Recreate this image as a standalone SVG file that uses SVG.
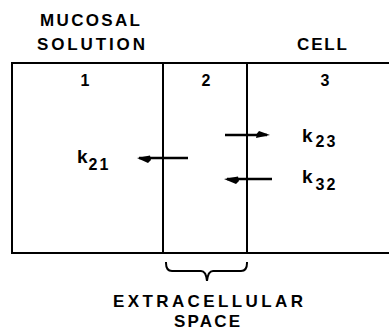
<svg xmlns="http://www.w3.org/2000/svg" width="389" height="331" viewBox="0 0 389 331">
<style>
.ln{stroke:#000;stroke-width:2;fill:none;stroke-linecap:square}
.ar{stroke:#000;stroke-width:2.4;fill:none}
.hd{fill:#000;stroke:none}
text{font-family:"Liberation Sans",Arial,sans-serif;font-weight:bold;fill:#000}
.lab{font-size:17px}
.num{font-size:16px}
.k{font-size:19px}
.sub{font-size:16px;letter-spacing:2px}
</style>
<g id="labels">
<text class="lab" x="40" y="26" textLength="100" lengthAdjust="spacing">MUCOSAL</text>
<text class="lab" x="37" y="50" textLength="108" lengthAdjust="spacing">SOLUTION</text>
<text class="lab" x="297" y="50" textLength="50" lengthAdjust="spacing">CELL</text>
</g>
<g id="compartment1">
<path class="ln" d="M12,63 V253"/>
<text class="num" x="85" y="86" text-anchor="middle">1</text>
</g>
<g id="compartment2">
<path class="ln" d="M163,63 V253"/>
<text class="num" x="206" y="86" text-anchor="middle">2</text>
</g>
<g id="compartment3">
<path class="ln" d="M247,63 V253"/>
<text class="num" x="325" y="86" text-anchor="middle">3</text>
</g>
<g id="frame">
<path class="ln" d="M12,63 H388"/>
<path class="ln" d="M12,253 H388"/>
</g>
<g id="connectors">
<path class="ar" d="M139,158 H188"/>
<path class="hd" d="M137,158 L150,155.5 L151,160 L148,163 Z"/>
<path class="ar" d="M225,135 H267"/>
<path class="hd" d="M270,135 L256,138 L257,133.5 L259,131 Z"/>
<path class="ar" d="M227,179 H272"/>
<path class="hd" d="M224,179 L238,176.5 L239,181 L236,184 Z"/>
</g>
<g id="rates">
<text x="77" y="163"><tspan class="k">k</tspan><tspan class="sub" dx="1" dy="7">21</tspan></text>
<text x="302" y="142"><tspan class="k">k</tspan><tspan class="sub" dx="3" dy="5">23</tspan></text>
<text x="302" y="183"><tspan class="k">k</tspan><tspan class="sub" dx="3" dy="7">32</tspan></text>
</g>
<g id="brace">
<path class="ln" d="M166,263 Q166,271 172,271 H201 Q206,271 207,281 Q208,271 213,271 H241 Q247,271 247,263"/>
</g>
<g id="extracellular">
<text class="lab" x="113" y="307" textLength="190" lengthAdjust="spacing">EXTRACELLULAR</text>
<text class="lab" x="174" y="327" textLength="66" lengthAdjust="spacing">SPACE</text>
</g>
</svg>
